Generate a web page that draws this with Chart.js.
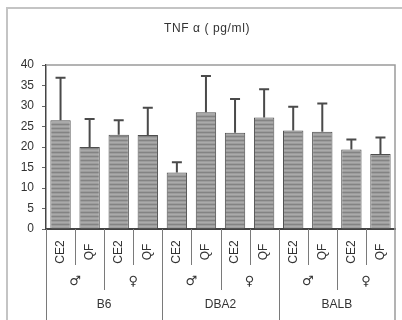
<!DOCTYPE html>
<html>
<head>
<meta charset="utf-8">
<script src="https://cdn.jsdelivr.net/npm/chart.js@4/dist/chart.umd.min.js"></script>
<style>
html,body{margin:0;padding:0;background:#fff;}
#wrap{width:402px;height:320px;position:relative;}
canvas{display:block;}
</style>
</head>
<body>
<div id="wrap"><canvas id="c" width="402" height="320"></canvas></div>
<script>
// ---- data ----
const categories = ['CE2','QF','CE2','QF','CE2','QF','CE2','QF','CE2','QF','CE2','QF'];
const sexes = ['♂','♀','♂','♀','♂','♀'];
const strains = ['B6','DBA2','BALB'];
const means = [26.5, 20.0, 23.0, 22.9, 13.8, 28.5, 23.5, 27.2, 24.0, 23.7, 19.4, 18.3];
const errors = [10.4, 6.8, 3.5, 6.7, 2.5, 8.8, 8.2, 6.9, 5.8, 6.9, 2.4, 4.0];
const yTicks = [0,5,10,15,20,25,30,35,40];
const titleText = 'TNF α ( pg/ml)';

// striped gray pattern for bars
function makePattern(){
  const p = document.createElement('canvas');
  p.width = 4; p.height = 4;
  const g = p.getContext('2d');
  g.fillStyle = '#9c9c9c'; g.fillRect(0,0,4,4);
  g.fillStyle = '#838383'; g.fillRect(0,0,4,1);
  g.fillStyle = '#aaaaaa'; g.fillRect(0,2,4,1);
  return g.createPattern(p,'repeat');
}
const barFill = makePattern();

const FONT = '"Liberation Sans", Arial, sans-serif';
const TXT = '#333333';

const deco = {
  id:'deco',
  afterDraw(chart){
    const ctx = chart.ctx;
    const x = chart.scales.x, y = chart.scales.y;
    const ca = chart.chartArea;
    ctx.save();
    // outer frame
    ctx.strokeStyle = '#c4c4c4'; ctx.lineWidth = 2;
    ctx.beginPath(); ctx.moveTo(7,320); ctx.lineTo(7,8); ctx.lineTo(402,8); ctx.stroke();
    // plot border top & right
    ctx.strokeStyle = '#9a9a9a'; ctx.lineWidth = 1.5;
    ctx.beginPath(); ctx.moveTo(ca.left, ca.top); ctx.lineTo(ca.right, ca.top); ctx.lineTo(ca.right, 320); ctx.stroke();
    // error bars
    ctx.strokeStyle = '#4a4a4a'; ctx.lineWidth = 2;
    for(let i=0;i<means.length;i++){
      const px = x.getPixelForValue(i);
      const y0 = y.getPixelForValue(means[i]);
      const y1 = y.getPixelForValue(means[i]+errors[i]);
      ctx.beginPath(); ctx.moveTo(px,y0); ctx.lineTo(px,y1);
      ctx.moveTo(px-5,y1); ctx.lineTo(px+5,y1); ctx.stroke();
    }
    // category separators
    ctx.strokeStyle = '#7a7a7a'; ctx.lineWidth = 1;
    const pos = categories.map((c,i)=>x.getPixelForValue(i));
    ctx.beginPath(); ctx.moveTo(ca.left+0.5, ca.bottom); ctx.lineTo(ca.left+0.5, 320); ctx.stroke();
    for(let i=0;i<categories.length-1;i++){
      const xb = Math.round((pos[i]+pos[i+1])/2)+0.5;
      let yEnd = 265;
      if((i+1)%4===0) yEnd = 320; else if((i+1)%2===0) yEnd = 290;
      ctx.beginPath(); ctx.moveTo(xb, ca.bottom); ctx.lineTo(xb, yEnd); ctx.stroke();
    }
    // tier 1: rotated labels
    ctx.fillStyle = TXT;
    ctx.font = '12px ' + FONT;
    ctx.textAlign = 'center'; ctx.textBaseline = 'middle';
    categories.forEach((c,i)=>{
      ctx.save(); ctx.translate(pos[i], 252); ctx.rotate(-Math.PI/2);
      ctx.fillText(c, 0, 0); ctx.restore();
    });
    // tier 2: sexes
    ctx.font = 'bold 13px "DejaVu Sans", sans-serif';
    sexes.forEach((s,k)=>{
      ctx.fillText(s, (pos[2*k]+pos[2*k+1])/2, 282);
    });
    // tier 3: strains
    ctx.font = '12px ' + FONT;
    strains.forEach((s,k)=>{
      ctx.fillText(s, (pos[4*k]+pos[4*k+3])/2, 305);
    });
    // title
    ctx.font = '12px ' + FONT;
    ctx.letterSpacing = '0.6px';
    ctx.fillText(titleText, 207, 29);
    ctx.restore();
  }
};

new Chart(document.getElementById('c'), {
  type:'bar',
  data:{
    labels: categories.map((c,i)=>i),
    datasets:[{
      data: means,
      backgroundColor: barFill,
      borderColor: '#4e4e4e',
      borderWidth: 1,
      categoryPercentage: 1.0,
      barPercentage: 0.7
    }]
  },
  options:{
    responsive:false,
    animation:false,
    layout:{padding:{top:65,right:7,left:0,bottom:0}},
    plugins:{legend:{display:false},title:{display:false},tooltip:{enabled:false}},
    scales:{
      x:{
        grid:{display:false},
        ticks:{display:false},
        border:{display:true,color:'#444',width:2},
        afterFit(s){ s.height = 91; }
      },
      y:{
        min:0,max:40,
        afterBuildTicks(s){ s.ticks = yTicks.map(v=>({value:v})); },
        grid:{drawOnChartArea:false,tickLength:4,color:'#666'},
        border:{display:true,color:'#444',width:1.5},
        ticks:{color:TXT,font:{family:FONT,size:12},padding:8},
        afterFit(s){ s.width = 46; }
      }
    }
  },
  plugins:[deco]
});
</script>
</body>
</html>
